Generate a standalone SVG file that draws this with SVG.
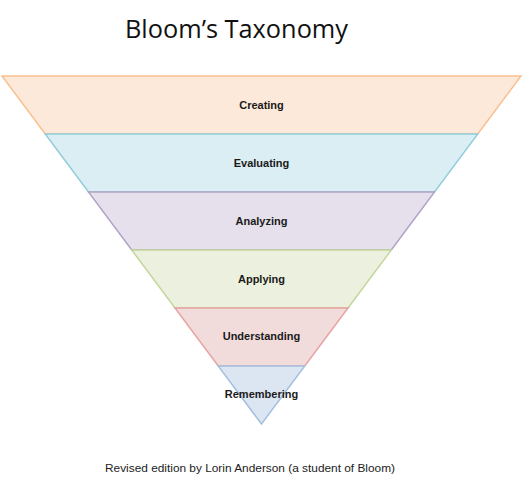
<svg xmlns="http://www.w3.org/2000/svg" width="523" height="480" viewBox="0 0 523 480">
<style>
.band{stroke-width:1.5;stroke-linejoin:miter}
.lbl{font-family:"Liberation Sans",Arial,sans-serif;font-weight:bold;font-size:11px;fill:#1a1a1a;text-anchor:middle}
.title{font-family:"Open Sans","Liberation Sans",sans-serif;font-size:26px;fill:#111}
.foot{font-family:"Liberation Sans",Arial,sans-serif;font-size:11px;fill:#222}
</style>
<rect width="523" height="480" fill="#fff"/>
<text class="title" x="125" y="38" textLength="223" lengthAdjust="spacingAndGlyphs">Bloom’s Taxonomy</text>
<g id="creating">
<polygon class="band" points="2,76 521,76 477.75,134 45.25,134" fill="#FDE9D9" stroke="#F9C08F"/>
<text class="lbl" x="261.5" y="109">Creating</text>
</g>
<g id="evaluating">
<polygon class="band" points="45.25,134 477.75,134 434.5,192 88.5,192" fill="#DBEEF4" stroke="#93CDDD"/>
<text class="lbl" x="261.5" y="167">Evaluating</text>
</g>
<g id="analyzing">
<polygon class="band" points="88.5,192 434.5,192 391.25,250 131.75,250" fill="#E5E0EC" stroke="#B3A2C7"/>
<text class="lbl" x="261.5" y="225">Analyzing</text>
</g>
<g id="applying">
<polygon class="band" points="131.75,250 391.25,250 348,308 175,308" fill="#EBF1DE" stroke="#C3D69B"/>
<text class="lbl" x="261.5" y="283">Applying</text>
</g>
<g id="understanding">
<polygon class="band" points="175,308 348,308 304.75,366 218.25,366" fill="#F2DCDB" stroke="#E6A3A1"/>
<text class="lbl" x="261.5" y="340">Understanding</text>
</g>
<g id="remembering">
<polygon class="band" points="218.25,366 304.75,366 261.5,424" fill="#DCE6F2" stroke="#A5C0DE"/>
<text class="lbl" x="261.5" y="398">Remembering</text>
</g>
<g id="connectors"/>
<text class="foot" x="105" y="472" textLength="290" lengthAdjust="spacingAndGlyphs">Revised edition by Lorin Anderson (a student of Bloom)</text>
</svg>
